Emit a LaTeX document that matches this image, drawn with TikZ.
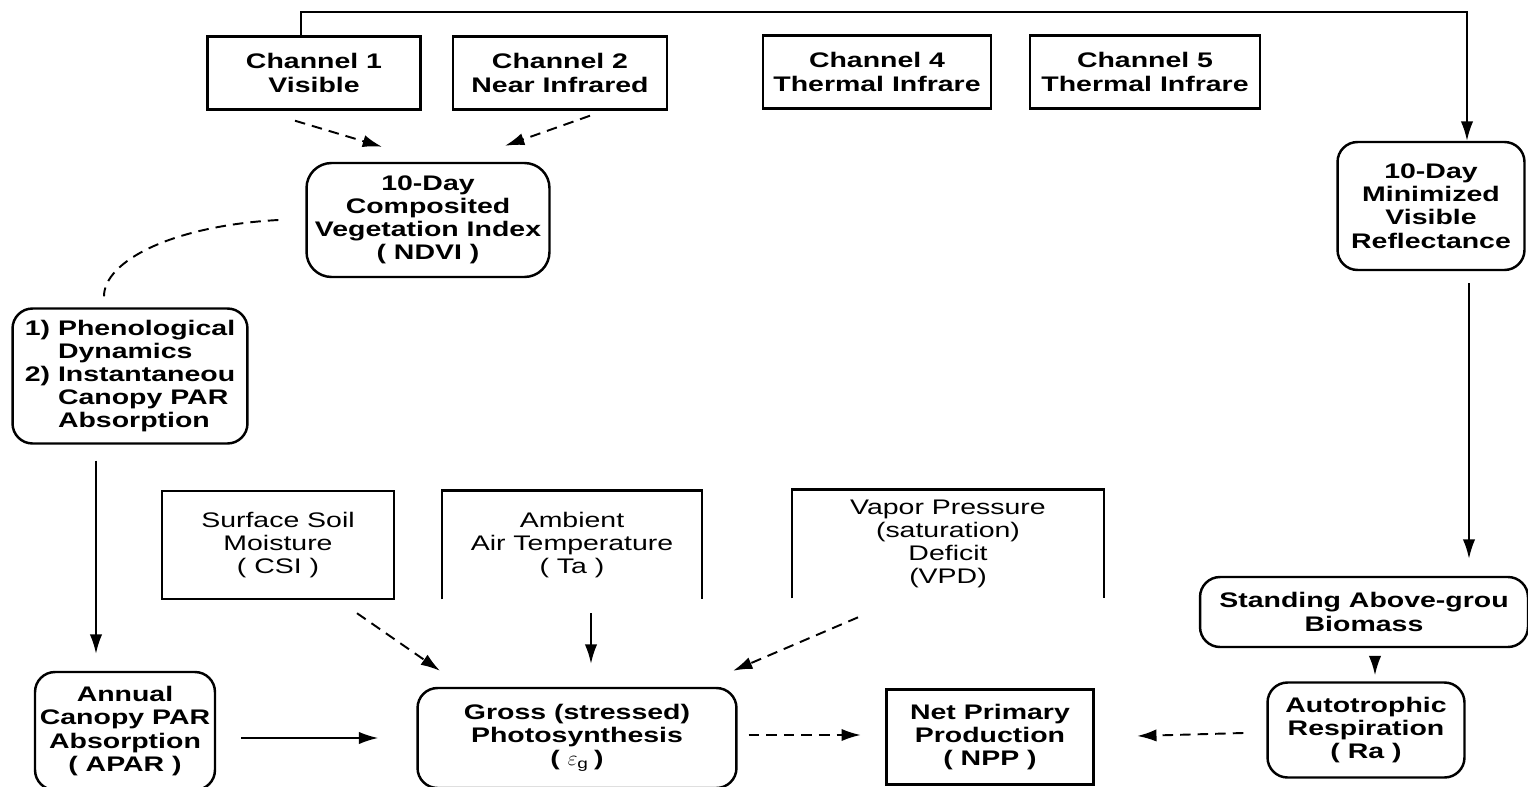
\documentclass[tikz,border=0pt]{standalone}
\usepackage{fontspec}
\setmainfont{Liberation Sans}[FakeStretch=1.35]
\usetikzlibrary{arrows.meta,calc}

\tikzset{
  box/.style={draw, line width=1.4pt, align=center, inner sep=2pt},
  roundbox/.style={box, rounded corners=0.4cm},
  openbox/.style={align=center, inner sep=2pt},
  arr/.style={line width=1.1pt, -{Latex[length=11pt,width=7pt]}},
  dasharr/.style={arr, dash pattern=on 6pt off 4pt},
  dashline/.style={line width=1.1pt, dash pattern=on 6pt off 4pt}
}

\begin{document}
\begin{tikzpicture}[x=0.02cm, y=-0.02cm, font=\fontsize{12}{13.2}\selectfont]
    \useasboundingbox (0,0) rectangle (1528,787);

    % --- satellite channels ---
    \node[box, minimum width=4.26cm, minimum height=1.46cm, font=\fontsize{12}{13.2}\selectfont\bfseries] (ch1) at (314,73) {Channel 1\\Visible};
    \node[box, minimum width=4.28cm, minimum height=1.46cm, font=\fontsize{12}{13.2}\selectfont\bfseries] (ch2) at (560,73) {Channel 2\\Near Infrared};
    \node[box, minimum width=4.56cm, minimum height=1.46cm, font=\fontsize{12}{13.2}\selectfont\bfseries] (ch4) at (877,72) {Channel 4\\Thermal Infrare};
    \node[box, minimum width=4.6cm, minimum height=1.46cm, font=\fontsize{12}{13.2}\selectfont\bfseries] (ch5) at (1145,72) {Channel 5\\Thermal Infrare};

    % --- derived products ---
    \node[roundbox, rounded corners=0.5cm, minimum width=4.86cm, minimum height=2.28cm, font=\fontsize{12}{13.2}\selectfont\bfseries] (ndvi) at (428,220) {10-Day\\Composited\\Vegetation Index\\( NDVI )};
    \node[roundbox, align=left, minimum width=4.7cm, minimum height=2.7cm, font=\fontsize{12}{13.2}\selectfont\bfseries] (pheno) at (130,376) {1) Phenological\\\phantom{1) }Dynamics\\2) Instantaneou\\\phantom{2) }Canopy PAR\\\phantom{2) }Absorption};
    \node[roundbox, minimum width=3.74cm, minimum height=2.56cm, font=\fontsize{12}{13.2}\selectfont\bfseries] (minim) at (1431,206) {10-Day\\Minimized\\Visible\\Reflectance};

    % --- environmental controls ---
    \node[box, minimum width=4.64cm, minimum height=2.16cm] (soil) at (278,545) {Surface Soil\\Moisture\\( CSI )};
    \node[openbox, minimum width=5.18cm, minimum height=2.16cm] (amb) at (572,545) {Ambient\\Air Temperature\\( Ta )};
    \node[openbox, minimum width=6.22cm, minimum height=2.16cm] (vpd) at (948,544) {Vapor Pressure\\(saturation)\\Deficit\\(VPD)};
    \draw[line width=1.4pt] (amb.south west) -- (amb.north west) -- (amb.north east) -- (amb.south east);
    \draw[line width=1.4pt] (vpd.south west) -- (vpd.north west) -- (vpd.north east) -- (vpd.south east);
    \node[roundbox, minimum width=6.56cm, minimum height=1.4cm, font=\fontsize{12}{13.2}\selectfont\bfseries] (stand) at (1364,612) {Standing Above-grou\\Biomass};

    % --- bottom row ---
    \node[roundbox, minimum width=3.6cm, minimum height=2.36cm, font=\fontsize{12}{13.2}\selectfont\bfseries] (apar) at (125,731) {Annual\\Canopy PAR\\Absorption\\( APAR )};
    \node[roundbox, minimum width=6.38cm, minimum height=2cm, font=\fontsize{12}{13.2}\selectfont\bfseries] (gross) at (577,738) {Gross (stressed)\\Photosynthesis\\( $\varepsilon_{\mathrm{g}}$ )};
    \node[box, line width=1.9pt, minimum width=4.14cm, minimum height=1.9cm, font=\fontsize{12}{13.2}\selectfont\bfseries] (npp) at (990,737) {Net Primary\\Production\\( NPP )};
    \node[roundbox, minimum width=3.94cm, minimum height=1.9cm, font=\fontsize{12}{13.2}\selectfont\bfseries] (auto) at (1366,730) {Autotrophic\\Respiration\\( Ra )};

    % --- connectors ---
    \draw[arr] ([xshift=-0.26cm]ch1.north) -- ++(0,-23) -| ([xshift=0.72cm]minim.north);
    \draw[dasharr] ($(ch1.south)+(-19,10)$) -- ($(ndvi.north)+(-46,-15)$);
    \draw[dasharr] ($(ch2.south)+(30,5)$) -- ($(ndvi.north)+(77,-16)$);
    \draw[dashline] ($(ndvi.west)+(-27,0)$) .. controls (170,226) and (104,262) .. ($(pheno.north)+(-26,-11)$);
    \draw[arr] ($(pheno.south)+(-34,16)$) -- ($(apar.north)+(-29,-17)$);
    \draw[arr] ($(minim.south)+(38,12)$) -- ($(stand.north)+(105,-17)$);
    \draw[arr] ($(stand.south)+(11,8)$) -- ($(auto.north)+(9,-6)$);

    \draw[dasharr] ($(soil.south)+(79,13)$) -- ($(gross.north)+(-137,-16)$);
    \draw[arr] ($(amb.south)+(19,14)$) -- ($(gross.north)+(14,-23)$);
    \draw[dasharr] ($(vpd.south)+(-90,19)$) -- ($(gross.north)+(156,-16)$);

    \draw[arr] ($(apar.east)+(25,7)$) -- ($(gross.west)+(-38,0)$);
    \draw[dasharr] ($(gross.east)+(11,-3)$) -- ($(npp.west)+(-24,-2)$);
    \draw[dasharr] ($(auto.west)+(-23,3)$) -- ($(npp.east)+(42,-1)$);

\end{tikzpicture}
\end{document}
